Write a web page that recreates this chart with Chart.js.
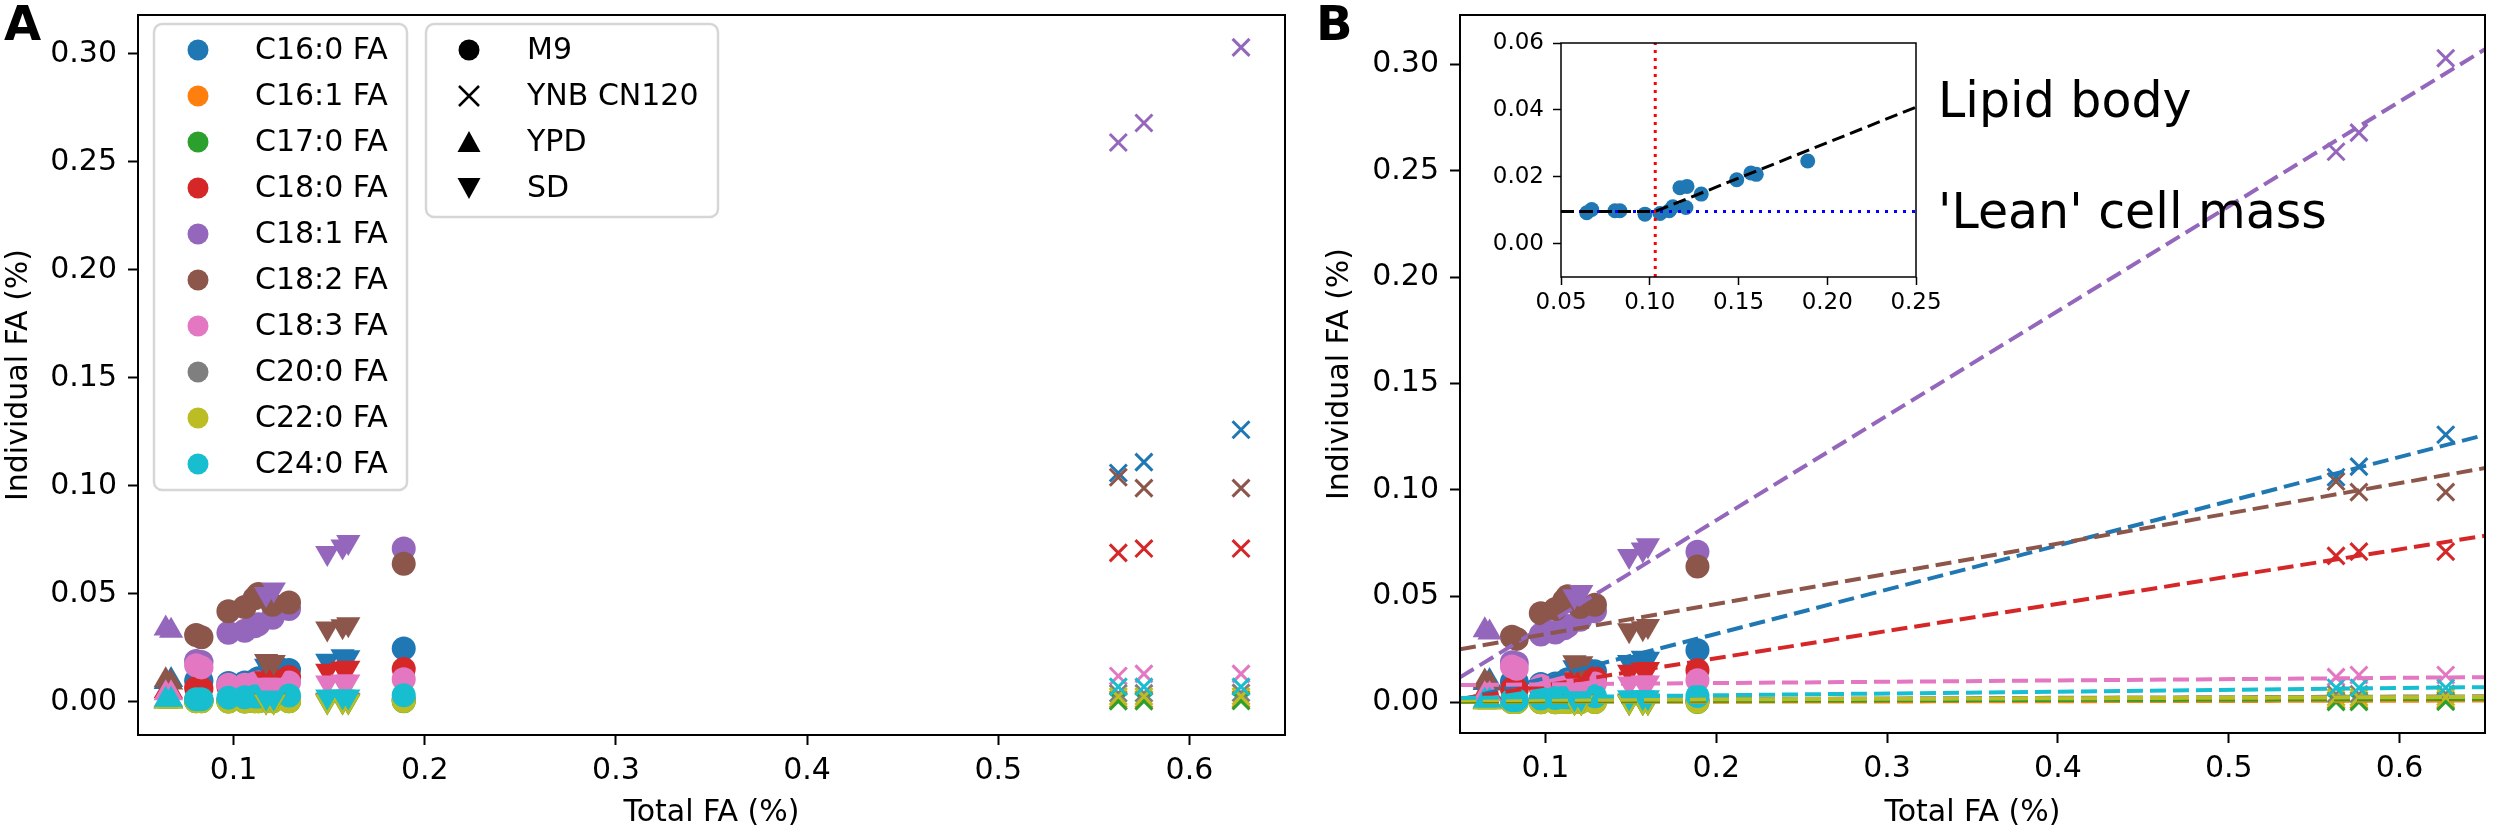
<!DOCTYPE html>
<html>
<head>
<meta charset="utf-8">
<script src="https://cdn.jsdelivr.net/npm/chart.js@4.4.1/dist/chart.umd.min.js"></script>
<style>
  html, body { margin: 0; padding: 0; background: #fff; }
  #wrap { position: relative; width: 2500px; height: 831px; overflow: hidden; }
  canvas { position: absolute; }
</style>
</head>
<body>
<div id="wrap">
  <canvas id="chartA" width="1300" height="831" style="left:0;top:0;width:1300px;height:831px"></canvas>
  <canvas id="chartB" width="1200" height="831" style="left:1300px;top:0;width:1200px;height:831px"></canvas>
  <canvas id="chartInset" width="480" height="310" style="left:1470px;top:30px;width:480px;height:310px"></canvas>
</div>
<script>
// fatty acids and their colours
const faNames = ['C16:0 FA', 'C16:1 FA', 'C17:0 FA', 'C18:0 FA', 'C18:1 FA', 'C18:2 FA', 'C18:3 FA', 'C20:0 FA', 'C22:0 FA', 'C24:0 FA'];
const faColors = ['#1f77b4', '#ff7f0e', '#2ca02c', '#d62728', '#9467bd', '#8c564b', '#e377c2', '#7f7f7f', '#bcbd22', '#17becf'];
const media = ['M9', 'YNB CN120', 'YPD', 'SD'];

// one entry per sample
const sampleMedium = ['YPD', 'YPD', 'M9', 'M9', 'M9', 'M9', 'M9', 'M9', 'SD', 'SD', 'M9', 'M9', 'SD', 'SD', 'SD', 'M9', 'YNB CN120', 'YNB CN120', 'YNB CN120'];
const totalFA = [0.0645, 0.0673, 0.0804, 0.0832, 0.0973, 0.1058, 0.1110, 0.1130, 0.1170, 0.1210, 0.1204, 0.1290, 0.1490, 0.1570, 0.1600, 0.1890, 0.5628, 0.5762, 0.6270];
const c16_0 = [0.0092, 0.0102, 0.0098, 0.0098, 0.0088, 0.0090, 0.0098, 0.0110, 0.0167, 0.0171, 0.0108, 0.0148, 0.0191, 0.0211, 0.0207, 0.0247, 0.106, 0.111, 0.126];
const c16_1 = [0.0004, 0.0004, 0.0008, 0.0008, 0.0006, 0.0006, 0.0007, 0.0007, 0.0004, 0.0004, 0.0007, 0.0008, 0.0005, 0.0005, 0.0005, 0.0009, 0.0012, 0.0012, 0.0013];
const c17_0 = [0.0002, 0.0002, 0.0003, 0.0003, 0.0002, 0.0002, 0.0003, 0.0003, 0.0002, 0.0002, 0.0003, 0.0003, 0.0002, 0.0002, 0.0002, 0.0003, 0.0004, 0.0004, 0.0005];
const c18_0 = [0.0050, 0.0048, 0.0065, 0.0062, 0.0070, 0.0072, 0.0075, 0.0080, 0.0110, 0.0118, 0.0090, 0.0115, 0.0145, 0.0155, 0.0158, 0.0153, 0.069, 0.071, 0.071];
const c18_1 = [0.0340, 0.0330, 0.0190, 0.0185, 0.0320, 0.0330, 0.0350, 0.0360, 0.0500, 0.0520, 0.0390, 0.0430, 0.0690, 0.0720, 0.0740, 0.0710, 0.259, 0.268, 0.303];
const c18_2 = [0.0100, 0.0090, 0.0310, 0.0300, 0.0420, 0.0440, 0.0480, 0.0500, 0.0190, 0.0185, 0.0450, 0.0460, 0.0340, 0.0350, 0.0360, 0.0640, 0.104, 0.099, 0.099];
const c18_3 = [0.0040, 0.0040, 0.0170, 0.0160, 0.0080, 0.0080, 0.0085, 0.0090, 0.0080, 0.0080, 0.0090, 0.0090, 0.0090, 0.0095, 0.0095, 0.0105, 0.012, 0.013, 0.013];
const c20_0 = [0.0005, 0.0005, 0.0008, 0.0008, 0.0008, 0.0008, 0.0009, 0.0009, 0.0008, 0.0008, 0.0009, 0.0010, 0.0010, 0.0010, 0.0010, 0.0012, 0.0040, 0.0040, 0.0042];
const c22_0 = [0.0002, 0.0002, 0.0003, 0.0003, 0.0002, 0.0002, 0.0003, 0.0003, 0.0002, 0.0002, 0.0003, 0.0003, 0.0003, 0.0003, 0.0003, 0.0004, 0.0025, 0.0025, 0.0026];
const c24_0 = [0.0010, 0.0010, 0.0012, 0.0012, 0.0020, 0.0022, 0.0025, 0.0025, 0.0020, 0.0020, 0.0030, 0.0030, 0.0025, 0.0025, 0.0025, 0.0031, 0.0070, 0.0070, 0.0070];
const faValues = [c16_0, c16_1, c17_0, c18_0, c18_1, c18_2, c18_3, c20_0, c22_0, c24_0];

// panel B fitted lines, value at each end of the x range
const fitX = [0.05, 0.65];
const fitStart = [0.0012, 0.0003, 0.0006, 0.0017, 0.0119, 0.0251, 0.0083, 0.0013, 0.0012, 0.0022];
const fitEnd = [0.1259, 0.0010, 0.0018, 0.0785, 0.3072, 0.1103, 0.0120, 0.0030, 0.0027, 0.0073];

// inset: C16:0 broken-stick fit
const insetFitX = [0.05, 0.1031, 0.25];
const insetFitY = [0.0096, 0.0096, 0.0408];
const leanLevel = 0.0096;
const breakPoint = 0.1031;

// ticks
const xTicks = [0.1, 0.2, 0.3, 0.4, 0.5, 0.6];
const xTickLabels = ['0.1', '0.2', '0.3', '0.4', '0.5', '0.6'];
const yTicks = [0, 0.05, 0.10, 0.15, 0.20, 0.25, 0.30];
const yTickLabels = ['0.00', '0.05', '0.10', '0.15', '0.20', '0.25', '0.30'];
const insetXTicks = [0.05, 0.10, 0.15, 0.20, 0.25];
const insetXTickLabels = ['0.05', '0.10', '0.15', '0.20', '0.25'];
const insetYTicks = [0, 0.02, 0.04, 0.06];
const insetYTickLabels = ['0.00', '0.02', '0.04', '0.06'];

Chart.defaults.font.family = "'DejaVu Sans', sans-serif";
Chart.defaults.color = '#000';

const markerStyle = { 'M9': 'circle', 'YNB CN120': 'crossRot', 'YPD': 'triangle', 'SD': 'triangle' };
const markerRadius = { 'M9': 12, 'YNB CN120': 12, 'YPD': 14, 'SD': 14 };

function scatterSets() {
  const sets = [];
  media.forEach(m => {
    faNames.forEach((name, k) => {
      const pts = [];
      totalFA.forEach((x, i) => {
        if (sampleMedium[i] === m) pts.push({ x: x, y: faValues[k][i] });
      });
      sets.push({
        label: name + ' ' + m,
        data: pts,
        showLine: false,
        pointStyle: markerStyle[m],
        pointRotation: m === 'SD' ? 180 : 0,
        pointRadius: markerRadius[m],
        pointBackgroundColor: faColors[k],
        pointBorderColor: faColors[k],
        pointBorderWidth: m === 'YNB CN120' ? 3 : 0
      });
    });
  });
  // later series on top, like the original
  sets.forEach((s, i) => { s.order = 100 + sets.length - i; });
  return sets;
}

function fitSets() {
  return faNames.map((name, k) => ({
    label: name + ' fit',
    data: [{ x: fitX[0], y: fitStart[k] }, { x: fitX[1], y: fitEnd[k] }],
    showLine: true,
    pointRadius: 0,
    borderColor: faColors[k],
    borderWidth: 4,
    borderDash: [16, 7],
    fill: false,
    order: -1 - k
  }));
}

// fixed axis box; drop the label overhang padding so the plot area sits where we want it
function fixBox(dim, size) {
  return s => {
    s[dim] = size;
    s.paddingTop = 0; s.paddingBottom = 0; s.paddingLeft = 0; s.paddingRight = 0;
  };
}

function axis(min, max, ticks, labels, sz, fit, title) {
  return {
    type: 'linear',
    min: min,
    max: max,
    afterBuildTicks: s => { s.ticks = ticks.map(v => ({ value: v })); },
    afterFit: fit,
    grid: { display: true, drawOnChartArea: false, drawTicks: true, tickLength: sz.tick, tickWidth: sz.tickWidth, tickColor: '#000' },
    border: { display: false },
    ticks: { color: '#000', font: { size: sz.font }, padding: sz.pad, autoSkip: false, maxRotation: 0, callback: (v, i) => labels[i] },
    title: title || { display: false }
  };
}

function framePlugin(lw, fillBg) {
  return {
    id: 'frame',
    beforeDatasetsDraw(chart) {
      if (!fillBg) return;
      const a = chart.chartArea, ctx = chart.ctx;
      ctx.save();
      ctx.fillStyle = '#fff';
      ctx.fillRect(a.left, a.top, a.right - a.left, a.bottom - a.top);
      ctx.restore();
    },
    afterDraw(chart) {
      const a = chart.chartArea, ctx = chart.ctx;
      ctx.save();
      ctx.strokeStyle = '#000';
      ctx.lineWidth = lw;
      ctx.strokeRect(a.left, a.top, a.right - a.left, a.bottom - a.top);
      ctx.restore();
    }
  };
}

function roundRect(ctx, x, y, w, h, r) {
  ctx.beginPath();
  ctx.moveTo(x + r, y);
  ctx.arcTo(x + w, y, x + w, y + h, r);
  ctx.arcTo(x + w, y + h, x, y + h, r);
  ctx.arcTo(x, y + h, x, y, r);
  ctx.arcTo(x, y, x + w, y, r);
  ctx.closePath();
}

function legendMarker(ctx, m, x, y) {
  ctx.fillStyle = '#000';
  ctx.strokeStyle = '#000';
  ctx.beginPath();
  if (m === 'M9') {
    ctx.arc(x, y, 10.5, 0, Math.PI * 2);
    ctx.fill();
  } else if (m === 'YNB CN120') {
    ctx.lineWidth = 2.5;
    ctx.moveTo(x - 10, y - 10); ctx.lineTo(x + 10, y + 10);
    ctx.moveTo(x - 10, y + 10); ctx.lineTo(x + 10, y - 10);
    ctx.stroke();
  } else if (m === 'YPD') {
    ctx.moveTo(x, y - 11); ctx.lineTo(x + 11.5, y + 10); ctx.lineTo(x - 11.5, y + 10);
    ctx.closePath(); ctx.fill();
  } else {
    ctx.moveTo(x, y + 11); ctx.lineTo(x + 11.5, y - 10); ctx.lineTo(x - 11.5, y - 10);
    ctx.closePath(); ctx.fill();
  }
}

const legendPlugin = {
  id: 'faLegend',
  afterDraw(chart) {
    const ctx = chart.ctx;
    ctx.save();
    ctx.lineWidth = 2.5;
    ctx.strokeStyle = '#d6d6d6';
    ctx.fillStyle = 'rgba(255,255,255,0.8)';
    roundRect(ctx, 154, 24, 253, 466, 8); ctx.fill(); ctx.stroke();
    ctx.fillStyle = 'rgba(255,255,255,0.8)';
    roundRect(ctx, 426, 24, 292, 193, 8); ctx.fill(); ctx.stroke();
    ctx.font = "30px 'DejaVu Sans'";
    ctx.textBaseline = 'middle';
    ctx.textAlign = 'left';
    faNames.forEach((name, k) => {
      const y = 50 + 46 * k;
      ctx.fillStyle = faColors[k];
      ctx.beginPath();
      ctx.arc(198, y, 10.5, 0, Math.PI * 2);
      ctx.fill();
      ctx.fillStyle = '#000';
      ctx.fillText(name, 255, y + 1);
    });
    media.forEach((m, k) => {
      const y = 50 + 46 * k;
      legendMarker(ctx, m, 469, y);
      ctx.fillStyle = '#000';
      ctx.fillText(m, 527, y + 1);
    });
    ctx.font = "bold 48px 'DejaVu Sans'";
    ctx.textBaseline = 'alphabetic';
    ctx.fillText('A', 4, 40);
    ctx.restore();
  }
};

const notesPlugin = {
  id: 'notes',
  afterDraw(chart) {
    const ctx = chart.ctx;
    ctx.save();
    ctx.fillStyle = '#000';
    ctx.textAlign = 'left';
    ctx.textBaseline = 'alphabetic';
    ctx.font = "bold 48px 'DejaVu Sans'";
    ctx.fillText('B', 16, 40);
    ctx.font = "49px 'DejaVu Sans'";
    ctx.fillText('Lipid body', 638, 117);
    ctx.fillText("'Lean' cell mass", 638, 228);
    ctx.restore();
  }
};

const mainSize = { tick: 10, tickWidth: 2, font: 30, pad: 8 };
const mainYSize = { tick: 10, tickWidth: 2, font: 30, pad: 11 };
const xTitle = { display: true, text: 'Total FA (%)', color: '#000', font: { size: 30 }, padding: { top: 0, bottom: 0 } };

new Chart(document.getElementById('chartA'), {
  type: 'scatter',
  data: { datasets: scatterSets() },
  options: {
    responsive: false, animation: false, devicePixelRatio: 1,
    layout: { padding: { left: 0, right: 10, top: 9, bottom: 0 } },
    plugins: { legend: { display: false }, tooltip: { enabled: false } },
    scales: {
      x: axis(0.05, 0.65, xTicks, xTickLabels, mainSize, fixBox('height', 96), xTitle),
      y: axis(-0.0153, 0.318, yTicks, yTickLabels, mainYSize, fixBox('width', 138),
        { display: true, text: 'Individual FA (%)', color: '#000', font: { size: 30 }, padding: { top: 1, bottom: 0 } })
    }
  },
  plugins: [framePlugin(2, false), legendPlugin]
});

new Chart(document.getElementById('chartB'), {
  type: 'scatter',
  data: { datasets: scatterSets().concat(fitSets()) },
  options: {
    responsive: false, animation: false, devicePixelRatio: 1,
    layout: { padding: { left: 0, right: 4, top: 8, bottom: 0 } },
    plugins: { legend: { display: false }, tooltip: { enabled: false } },
    scales: {
      x: axis(0.05, 0.65, xTicks, xTickLabels, mainSize, fixBox('height', 98), xTitle),
      y: axis(-0.01425, 0.3233, yTicks, yTickLabels, mainYSize, fixBox('width', 160),
        { display: true, text: 'Individual FA (%)', color: '#000', font: { size: 30 }, padding: { top: 22, bottom: 0 } })
    }
  },
  plugins: [framePlugin(2, false), notesPlugin]
});

// inset: C16:0 of the low-FA samples
const insetPts = [];
totalFA.forEach((x, i) => { if (x < 0.25) insetPts.push({ x: x, y: c16_0[i] }); });
const insetSize = { tick: 8, tickWidth: 1.5, font: 23, pad: 4 };
const insetYSize = { tick: 8, tickWidth: 1.5, font: 23, pad: 9 };

new Chart(document.getElementById('chartInset'), {
  type: 'scatter',
  data: {
    datasets: [
      {
        label: 'broken stick',
        data: insetFitX.map((x, i) => ({ x: x, y: insetFitY[i] })),
        showLine: true, pointRadius: 0, borderColor: '#000', borderWidth: 3, borderDash: [13, 6], order: 1
      },
      {
        label: 'break',
        data: [{ x: breakPoint, y: -0.01 }, { x: breakPoint, y: 0.06 }],
        showLine: true, pointRadius: 0, borderColor: '#ff0000', borderWidth: 3, borderDash: [3, 5], order: 2
      },
      {
        label: 'lean',
        data: [{ x: 0.05, y: leanLevel }, { x: 0.25, y: leanLevel }],
        showLine: true, pointRadius: 0, borderColor: '#0000ff', borderWidth: 3, borderDash: [3, 6], order: 3
      },
      {
        label: 'C16:0 FA',
        data: insetPts,
        showLine: false, pointStyle: 'circle', pointRadius: 7.5, pointBorderWidth: 0,
        pointBackgroundColor: faColors[0], order: 4
      }
    ]
  },
  options: {
    responsive: false, animation: false, devicePixelRatio: 1,
    layout: { padding: { left: 0, right: 34, top: 13, bottom: 0 } },
    plugins: { legend: { display: false }, tooltip: { enabled: false } },
    scales: {
      x: axis(0.05, 0.25, insetXTicks, insetXTickLabels, insetSize, fixBox('height', 63)),
      y: axis(-0.01, 0.06, insetYTicks, insetYTickLabels, insetYSize, fixBox('width', 91))
    }
  },
  plugins: [framePlugin(1.5, true)]
});
</script>
</body>
</html>
